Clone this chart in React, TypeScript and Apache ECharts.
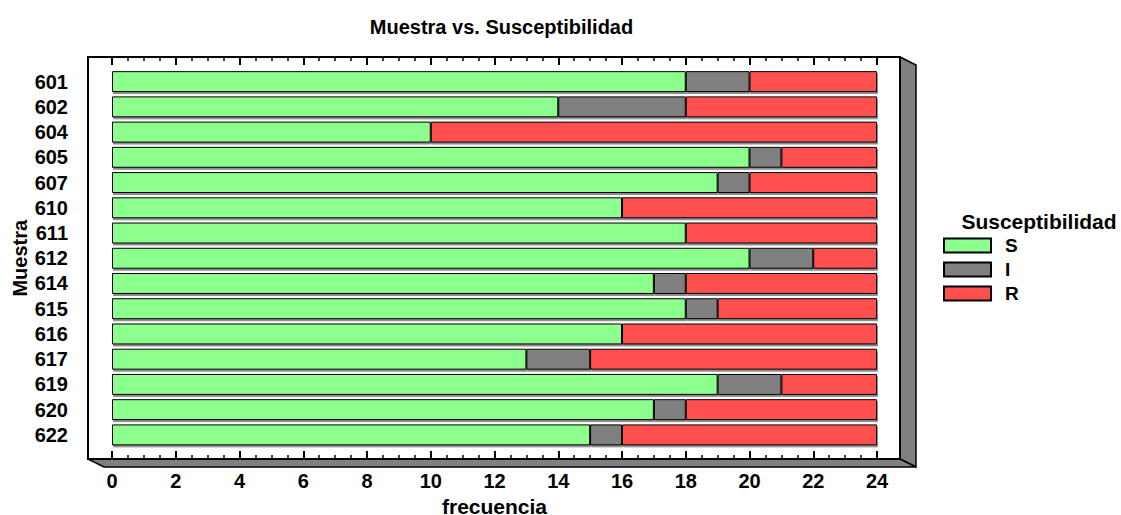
import React, { useEffect, useRef } from "react";
import * as echarts from "echarts";

const categories = ["601", "602", "604", "605", "607", "610", "611", "612", "614", "615", "616", "617", "619", "620", "622"];
const valuesS = [18, 14, 10, 20, 19, 16, 18, 20, 17, 18, 16, 13, 19, 17, 15];
const valuesI = [2, 4, 0, 1, 1, 0, 0, 2, 1, 1, 0, 2, 2, 1, 1];
const valuesR = [4, 6, 14, 3, 4, 8, 6, 2, 6, 5, 8, 9, 3, 6, 8];
const seriesNames = ["S", "I", "R"];
const seriesColors = ["#8cff8c", "#808080", "#ff5050"];

const W = 1121;
const H = 515;
const FRAME = { left: 88, top: 57, right: 900, bottom: 459 };
const DEPTH = { dx: 16, dy: 8 };
const GRID = { left: 112, right: 244, top: 69, bottom: 67.5 };
const FONT = '"Liberation Sans", Arial, sans-serif';

export default function App() {
  const ref = useRef<HTMLDivElement>(null);
  useEffect(() => {
    if (!ref.current) return;
    const chart = echarts.init(ref.current, null, { renderer: "svg" });
    const barStyle = (color: string) => ({
      color,
      borderColor: "#000",
      borderWidth: 1,
      shadowColor: "rgba(0,0,0,0.45)",
      shadowOffsetX: 1,
      shadowOffsetY: 2,
      shadowBlur: 0,
    });
    const data = [valuesS, valuesI, valuesR];
    const gridBottomPx = H - GRID.bottom;
    const axisCommon = {
      type: "value",
      min: 0,
      max: 24,
      interval: 2,
      axisLine: { show: false },
      splitLine: { show: false },
      axisTick: { show: true, inside: true, length: 8, lineStyle: { color: "#000", width: 2 } },
      minorTick: { show: true, splitNumber: 4, length: 4, lineStyle: { color: "#000", width: 1.5 } },
    };
    chart.setOption({
      animation: false,
      backgroundColor: "#fff",
      textStyle: { fontFamily: FONT },
      title: [
        {
          text: "Muestra vs. Susceptibilidad",
          left: (GRID.left + (W - GRID.right)) / 2 + 2,
          top: 12,
          textAlign: "center",
          textStyle: { fontFamily: FONT, fontSize: 20, fontWeight: "bold", color: "#000" },
        },
        {
          text: "Susceptibilidad",
          left: 1034,
          top: 206,
          textAlign: "center",
          textStyle: { fontFamily: FONT, fontSize: 21, fontWeight: "bold", color: "#000" },
        },
      ],
      legend: {
        orient: "vertical",
        left: 938,
        top: 231,
        itemWidth: 47,
        itemHeight: 14,
        itemGap: 5,
        icon: "rect",
        data: seriesNames,
        textStyle: { fontFamily: FONT, fontSize: 19, fontWeight: "bold", color: "#000", padding: [0, 0, 0, 9] },
      },
      grid: { left: GRID.left, right: GRID.right, top: GRID.top, bottom: GRID.bottom, outerBoundsMode: "none", containLabel: false },
      xAxis: [
        {
          ...axisCommon,
          position: "bottom",
          offset: FRAME.bottom - gridBottomPx,
          name: "frecuencia",
          nameLocation: "middle",
          nameGap: 39,
          nameMoveOverlap: false,
          nameTextStyle: { fontFamily: FONT, fontSize: 21, lineHeight: 16, fontWeight: "bold", color: "#000" },
          axisLabel: { show: true, margin: 12, fontFamily: FONT, fontSize: 20, fontWeight: "bold", color: "#000" },
        },
        {
          ...axisCommon,
          position: "top",
          offset: GRID.top - FRAME.top,
          axisLabel: { show: false },
        },
      ],
      yAxis: {
        type: "category",
        data: categories,
        inverse: true,
        axisLine: { show: false },
        axisTick: { show: false },
        axisLabel: { interval: 0, margin: 44, fontFamily: FONT, fontSize: 20, fontWeight: "bold", color: "#000" },
        name: "Muestra",
        nameLocation: "middle",
        nameGap: 82,
        nameMoveOverlap: false,
        nameRotate: 90,
        nameTextStyle: { fontFamily: FONT, fontSize: 20, fontWeight: "bold", color: "#000" },
      },
      series: seriesNames.map((name, i) => ({
        name,
        type: "bar",
        stack: "total",
        barWidth: "83%",
        xAxisIndex: 0,
        data: data[i],
        itemStyle: barStyle(seriesColors[i]),
      })),
      graphic: [
        {
          type: "polygon",
          z: 0,
          shape: {
            points: [
              [FRAME.right, FRAME.top],
              [FRAME.right + DEPTH.dx, FRAME.top + DEPTH.dy],
              [FRAME.right + DEPTH.dx, FRAME.bottom + DEPTH.dy],
              [FRAME.right, FRAME.bottom],
            ],
          },
          style: { fill: "#808080", stroke: "#000", lineWidth: 1.5 },
        },
        {
          type: "polygon",
          z: 0,
          shape: {
            points: [
              [FRAME.left, FRAME.bottom],
              [FRAME.right, FRAME.bottom],
              [FRAME.right + DEPTH.dx, FRAME.bottom + DEPTH.dy],
              [FRAME.left + DEPTH.dx, FRAME.bottom + DEPTH.dy],
            ],
          },
          style: { fill: "#808080", stroke: "#000", lineWidth: 1.5 },
        },
        {
          type: "rect",
          z: 0,
          shape: { x: FRAME.left, y: FRAME.top, width: FRAME.right - FRAME.left, height: FRAME.bottom - FRAME.top },
          style: { fill: "none", stroke: "#000", lineWidth: 2 },
        },
      ],
    });
    return () => chart.dispose();
  }, []);
  return (
    <div
      ref={ref}
      style={{ position: "fixed", left: 0, top: 0, width: W, height: H, background: "#fff" }}
    />
  );
}
